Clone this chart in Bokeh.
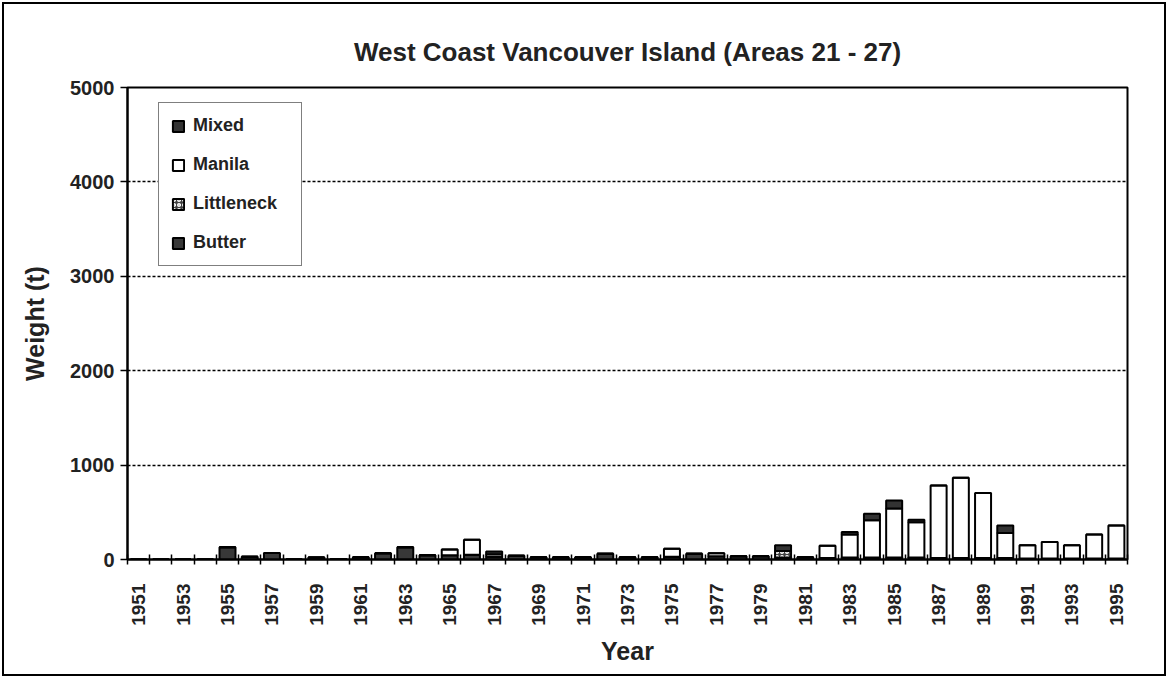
import math
from bokeh.plotting import figure
from bokeh.models import (ColumnDataSource, Range1d, FixedTicker, Legend, LegendItem)
from bokeh.embed import file_html
from bokeh.resources import INLINE

# ---------------- data (tonnes) ----------------
years = list(range(1951, 1996))
butter = [0, 0, 0, 0, 130, 30, 70, 0, 20, 5,
          25, 65, 130, 45, 45, 50, 30, 40, 25, 25,
          25, 60, 25, 25, 30, 60, 35, 35, 35, 20,
          25, 15, 20, 20, 20, 20, 15, 15, 15, 15,
          10, 10, 10, 10, 10]
littleneck = [0] * 29 + [70] + [0] * 15
manila = [0, 0, 0, 0, 0, 0, 0, 0, 0, 0,
          0, 0, 0, 0, 60, 160, 25, 0, 0, 0,
          0, 0, 0, 0, 85, 0, 30, 0, 0, 0,
          0, 130, 245, 395, 520, 375, 770, 850, 690, 265,
          140, 175, 140, 255, 350]
mixed = [0] * 16 + [30] + [0] * 12 + [60] + [0, 0, 25, 70, 85, 25, 0, 0, 0, 80] + [0] * 5
series = ["Butter", "Littleneck", "Manila", "Mixed"]
legend_order = ["Mixed", "Manila", "Littleneck", "Butter"]
y_ticks = [0, 1000, 2000, 3000, 4000, 5000]
label_years = [y for y in years if y % 2 == 1]

source = ColumnDataSource(dict(year=years, Butter=butter, Littleneck=littleneck,
                               Manila=manila, Mixed=mixed))

FONT = "Liberation Sans"

p = figure(width=1164, height=674, output_backend="svg", toolbar_location=None,
           x_range=Range1d(years[0] - 0.5, years[-1] + 0.5),
           y_range=Range1d(0, 5000),
           min_border_left=123, min_border_right=41, min_border_top=83,
           min_border_bottom=119,
           title="West Coast Vancouver Island (Areas 21 - 27)")
p.styles = {"border": "2px solid black", "margin-left": "2px", "margin-top": "2px"}

p.title.align = "center"
p.title.text_font = FONT
p.title.text_font_size = "26px"
p.title.text_font_style = "bold"
p.title.text_color = "#222222"
p.title.standoff = 41

p.outline_line_color = "black"
p.outline_line_width = 2
p.background_fill_color = "white"
p.border_fill_color = "white"

renderers = p.vbar_stack(series, x="year", width=0.72, source=source,
                         fill_color=["#383838", "#404040", "white", "#333333"],
                         hatch_pattern=["blank", "ring", "blank", "blank"],
                         hatch_color="white", hatch_scale=5, hatch_weight=1.5,
                         line_color="black", line_width=2)

# axes
p.xgrid.visible = False
p.ygrid.ticker = FixedTicker(ticks=y_ticks[1:-1])
p.ygrid.grid_line_color = "black"
p.ygrid.grid_line_dash = "3 2"
p.ygrid.grid_line_width = 1.5

p.yaxis.ticker = FixedTicker(ticks=y_ticks, minor_ticks=[])
p.yaxis.axis_line_width = 2
p.yaxis.major_tick_out = 7
p.yaxis.major_tick_in = 0
p.yaxis.major_tick_line_width = 1.5
p.yaxis.major_label_text_font = FONT
p.yaxis.major_label_text_font_size = "20px"
p.yaxis.major_label_text_font_style = "bold"
p.yaxis.major_label_text_color = "#222222"
p.yaxis.major_label_standoff = 6
p.yaxis.axis_label = "Weight (t)"
p.yaxis.axis_label_text_font = FONT
p.yaxis.axis_label_text_font_size = "25px"
p.yaxis.axis_label_text_font_style = "bold"
p.yaxis.axis_label_text_color = "#222222"
p.yaxis.axis_label_standoff = 18

boundaries = [y - 0.5 for y in years] + [years[-1] + 0.5]
p.xaxis.ticker = FixedTicker(ticks=label_years, minor_ticks=boundaries)
p.xaxis.axis_line_width = 2
p.xaxis.major_tick_out = 0
p.xaxis.major_tick_in = 0
p.xaxis.minor_tick_out = 5
p.xaxis.minor_tick_in = 5
p.xaxis.minor_tick_line_width = 1.5
p.xaxis.minor_tick_line_color = "black"
p.xaxis.major_label_orientation = math.pi / 2
p.xaxis.major_label_text_font = FONT
p.xaxis.major_label_text_font_size = "19px"
p.xaxis.major_label_text_font_style = "bold"
p.xaxis.major_label_text_color = "#222222"
p.xaxis.major_label_standoff = 19
p.xaxis.axis_label = "Year"
p.xaxis.axis_label_text_font = FONT
p.xaxis.axis_label_text_font_size = "25px"
p.xaxis.axis_label_text_font_style = "bold"
p.xaxis.axis_label_text_color = "#222222"
p.xaxis.axis_label_standoff = 8

rmap = dict(zip(series, renderers))
legend = Legend(items=[LegendItem(label=s, renderers=[rmap[s]]) for s in legend_order],
                location=(31, 293), padding=12, spacing=18, label_height=20,
                glyph_width=14, glyph_height=14, label_standoff=8, label_width=96,
                label_text_font=FONT, label_text_font_size="18px",
                label_text_font_style="bold", label_text_color="#222222",
                border_line_color="black", border_line_width=1.5,
                background_fill_color="white", background_fill_alpha=1.0,
                margin=0)
p.add_layout(legend)

open("out.html", "w").write(file_html(p, INLINE))
